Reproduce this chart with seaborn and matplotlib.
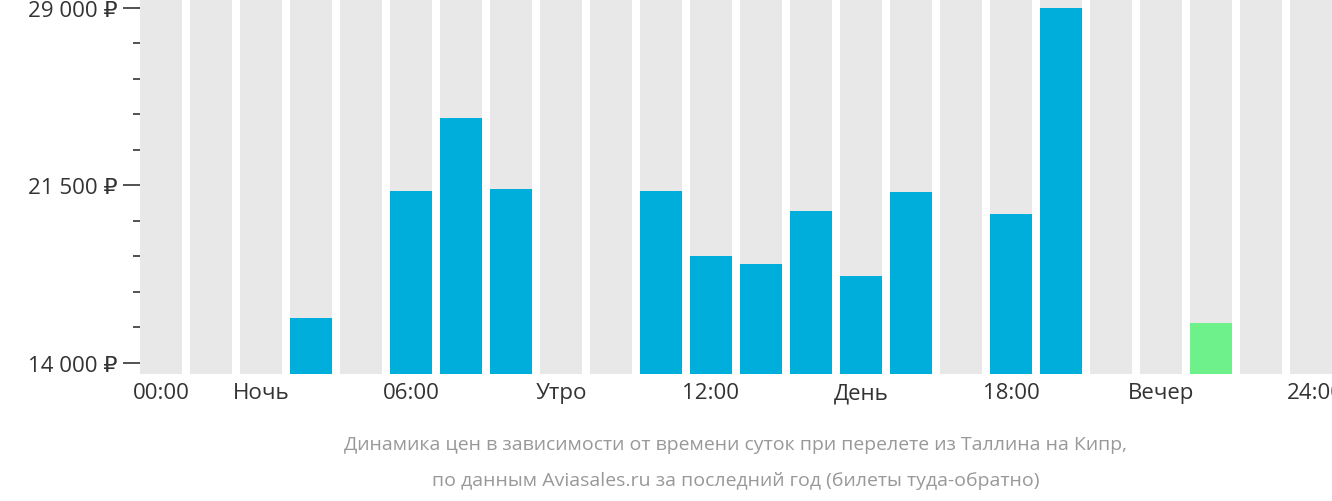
import matplotlib
matplotlib.use("Agg")
import matplotlib.pyplot as plt
import seaborn as sns
import pandas as pd
import numpy as np

hours = list(range(24))
prices = [0, 0, 0, 15900, 0, 21270, 24350, 21350, 0, 0, 21270, 18520,
          18180, 20420, 17680, 21220, 0, 20300, 29000, 0, 0, 15690, 0, 0]
cheapest = 21
tick_pos = [0, 2, 5, 8, 11, 14, 17, 20, 23]
tick_labels = ["00:00", "Ночь", "06:00", "Утро", "12:00", "День", "18:00", "Вечер", "24:00"]
y_ticks = [14000, 21500, 29000]
y_labels = ["14 000 ₽", "21 500 ₽", "29 000 ₽"]

plt.rcParams["font.family"] = ["Open Sans", "DejaVu Sans"]
fig = plt.figure(figsize=(13.32, 5.02), dpi=100)
ax = fig.add_axes([140/1332, 127/502, 1192/1332, 375/502])

ymin, ymax = 13535, 29380
df = pd.DataFrame({"hour": hours, "price": prices})
colors = ["#6ef08a" if h == cheapest else "#00aedb" for h in hours]

sns.barplot(x=hours, y=[ymax] * 24, color="#e8e8e8", width=0.84, ax=ax, saturation=1)
sns.barplot(data=df, x="hour", y="price", hue="hour", palette=colors, legend=False,
            width=0.84, ax=ax, saturation=1)

ax.set_ylim(ymin, ymax)
ax.set_xlim(-0.42, 23.42)
ax.set_yticks(y_ticks, y_labels)
ax.set_yticks(np.arange(14000, 29001, 1500), minor=True)
ax.set_xticks(tick_pos, tick_labels)
ax.tick_params(axis="y", which="major", length=12, width=1.2, color="#333333",
               labelsize=16, labelcolor="#333333", pad=4)
ax.tick_params(axis="y", which="minor", length=5, width=1.2, color="#333333")
ax.tick_params(axis="x", length=0, labelsize=16, labelcolor="#333333", pad=6)
xl = ax.get_xticklabels()
xl[-1].set_ha("right")
xl[-1].set_x(23)
from matplotlib.transforms import ScaledTranslation
xl[-1].set_transform(xl[-1].get_transform() + ScaledTranslation(0.33, 0, fig.dpi_scale_trans))
ax.set_xlabel("")
ax.set_ylabel("")
for s in ax.spines.values():
    s.set_visible(False)

fig.text(0.552, 0.113, "Динамика цен в зависимости от времени суток при перелете из Таллина на Кипр,",
         ha="center", va="center", fontsize=14, color="#999999")
fig.text(0.552, 0.042, "по данным Aviasales.ru за последний год (билеты туда-обратно)",
         ha="center", va="center", fontsize=14, color="#999999")

fig.savefig("out.png", dpi=100)
